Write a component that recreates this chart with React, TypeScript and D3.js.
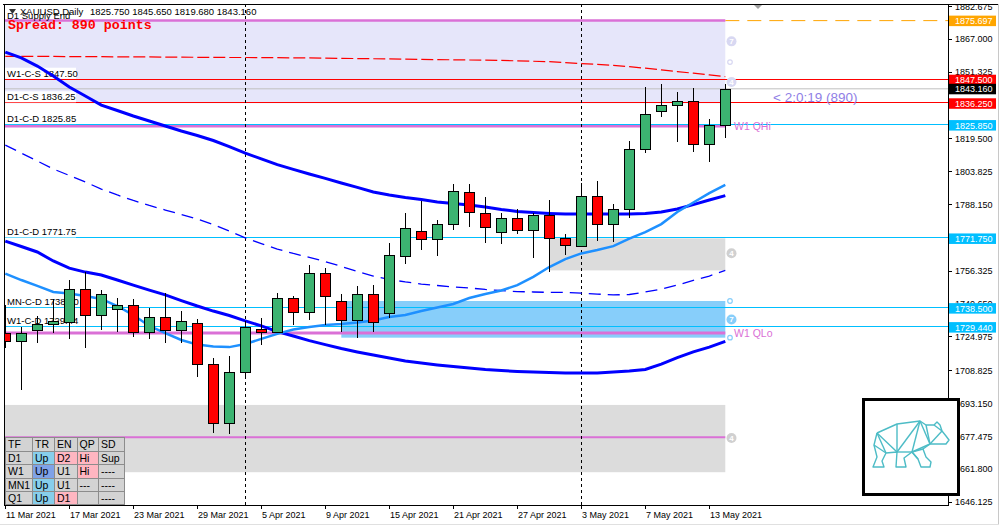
import * as d3 from "d3";

// ---- bars (XAUUSD daily) ----
const days = [
  "2021-03-11", "2021-03-12", "2021-03-15", "2021-03-16", "2021-03-17", "2021-03-18", "2021-03-19",
  "2021-03-22", "2021-03-23", "2021-03-24", "2021-03-25", "2021-03-26", "2021-03-29", "2021-03-30",
  "2021-03-31", "2021-04-01", "2021-04-05", "2021-04-06", "2021-04-07", "2021-04-08", "2021-04-09",
  "2021-04-12", "2021-04-13", "2021-04-14", "2021-04-15", "2021-04-16", "2021-04-19", "2021-04-20",
  "2021-04-21", "2021-04-22", "2021-04-23", "2021-04-26", "2021-04-27", "2021-04-28", "2021-04-29",
  "2021-04-30", "2021-05-03", "2021-05-04", "2021-05-05", "2021-05-06", "2021-05-07", "2021-05-10",
  "2021-05-11", "2021-05-12", "2021-05-13", "2021-05-14",
];
const opens = [
  1726.8, 1722.7, 1727.9, 1730.8, 1732.0, 1747.5, 1735.1, 1737.9, 1739.9, 1727.0, 1734.1, 1727.9,
  1731.3, 1711.7, 1683.5, 1707.9, 1728.5, 1727.3, 1743.2, 1736.5, 1755.1, 1741.8, 1732.7, 1745.1,
  1736.0, 1763.5, 1775.3, 1771.3, 1778.5, 1793.8, 1783.8, 1774.7, 1781.4, 1775.6, 1782.8, 1771.8,
  1768.0, 1791.9, 1778.5, 1785.7, 1814.3, 1832.4, 1835.3, 1837.2, 1816.7, 1825.75,
];
const highs = [
  1740.0, 1729.6, 1734.7, 1742.9, 1751.9, 1755.6, 1747.1, 1743.3, 1742.9, 1738.4, 1745.6, 1737.1,
  1733.2, 1714.8, 1715.7, 1732.5, 1733.6, 1745.6, 1744.3, 1759.1, 1757.5, 1745.2, 1749.1, 1749.5,
  1769.4, 1784.0, 1789.8, 1780.6, 1797.7, 1797.7, 1791.7, 1783.8, 1785.8, 1783.8, 1790.1, 1773.9,
  1798.1, 1799.2, 1788.0, 1818.3, 1843.9, 1845.5, 1841.5, 1843.4, 1828.6, 1845.65,
];
const lows = [
  1719.5, 1699.4, 1721.7, 1726.5, 1723.9, 1719.3, 1728.1, 1727.3, 1724.9, 1723.8, 1721.7, 1721.7,
  1705.8, 1679.1, 1678.3, 1704.9, 1720.9, 1726.5, 1730.4, 1732.8, 1730.4, 1727.3, 1724.1, 1727.3,
  1733.6, 1759.6, 1766.2, 1763.5, 1775.8, 1777.4, 1769.7, 1769.0, 1773.7, 1762.6, 1755.9, 1763.9,
  1767.5, 1770.7, 1770.2, 1781.7, 1812.7, 1829.9, 1817.9, 1813.1, 1808.4, 1819.68,
];
const closes = [
  1722.7, 1726.8, 1730.8, 1732.4, 1747.5, 1735.1, 1745.1, 1739.9, 1727.0, 1734.1, 1727.9, 1732.2,
  1711.7, 1683.5, 1707.9, 1729.6, 1727.3, 1743.2, 1736.8, 1755.1, 1744.1, 1732.7, 1745.1, 1732.0,
  1763.7, 1776.6, 1771.3, 1778.5, 1794.3, 1784.2, 1777.1, 1781.4, 1775.6, 1782.8, 1771.8, 1768.5,
  1791.9, 1778.5, 1785.7, 1814.3, 1831.0, 1835.3, 1837.2, 1816.7, 1825.75, 1843.16,
];

// ---- indicators ----
const midBand = [
  1860.7, 1857.9, 1854.0, 1849.3, 1844.0, 1839.7, 1835.4, 1832.8, 1830.2, 1827.8, 1825.4, 1823.0,
  1820.9, 1818.5, 1815.6, 1812.5, 1809.7, 1807.0, 1804.7, 1802.5, 1800.4, 1798.2, 1796.1, 1793.9,
  1792.5, 1791.3, 1790.3, 1789.1, 1788.4, 1787.7, 1786.8, 1785.6, 1784.6, 1784.1, 1783.7, 1783.4,
  1783.4, 1783.4, 1783.4, 1783.4, 1783.7, 1784.4, 1785.8, 1787.9, 1790.1, 1792.2,
];
const lowBand = [
  1770.5, 1767.9, 1765.3, 1761.0, 1757.6, 1755.7, 1754.3, 1751.9, 1749.5, 1747.1, 1744.8, 1742.1,
  1739.5, 1737.1, 1735.0, 1732.4, 1730.0, 1727.3, 1725.2, 1723.0, 1721.1, 1719.2, 1717.6, 1716.1,
  1714.7, 1713.3, 1712.3, 1711.4, 1710.6, 1709.9, 1709.2, 1708.7, 1708.3, 1708.0, 1707.8, 1707.5,
  1707.5, 1707.5, 1708.0, 1708.5, 1709.2, 1711.8, 1714.9, 1717.6, 1719.9, 1722.6,
];
const slowMA = [
  1816.3, 1812.5, 1808.7, 1804.9, 1801.8, 1798.7, 1795.3, 1792.5, 1789.9, 1787.5, 1785.3, 1783.2,
  1781.0, 1778.4, 1775.3, 1772.0, 1769.3, 1766.7, 1764.6, 1762.7, 1760.7, 1758.4, 1756.0, 1753.8,
  1752.2, 1751.0, 1750.0, 1749.3, 1748.6, 1748.1, 1747.4, 1746.9, 1746.4, 1746.2, 1746.0, 1746.0,
  1745.7, 1745.2, 1744.8, 1745.0, 1746.2, 1747.6, 1749.5, 1751.7, 1753.8, 1756.5,
];
const upperEnv = [
  1858.6, 1858.6, 1858.6, 1858.6, 1858.5, 1858.5, 1858.5, 1858.4, 1858.4, 1858.4, 1858.3, 1858.3,
  1858.2, 1858.2, 1858.1, 1858.1, 1858.0, 1858.0, 1857.9, 1857.9, 1857.8, 1857.7, 1857.6, 1857.5,
  1857.4, 1857.3, 1857.2, 1857.1, 1857.0, 1856.9, 1856.8, 1856.7, 1856.5, 1856.3, 1856.1, 1855.7,
  1855.2, 1854.8, 1854.3, 1853.7, 1853.0, 1852.2, 1851.4, 1850.6, 1849.8, 1849.0,
];
const fastMA = [
  1755.0, 1751.9, 1749.1, 1746.2, 1745.5, 1744.3, 1742.9, 1739.5, 1735.2, 1730.0, 1726.6, 1723.3,
  1721.1, 1720.2, 1719.9, 1721.4, 1723.8, 1726.2, 1728.3, 1729.5, 1730.4, 1730.9, 1731.6, 1732.6,
  1734.3, 1735.2, 1737.1, 1738.8, 1740.5, 1743.3, 1745.2, 1746.9, 1749.5, 1753.4, 1758.1, 1761.9,
  1764.6, 1766.2, 1768.1, 1771.7, 1774.8, 1778.6, 1784.4, 1788.9, 1793.4, 1797.3,
];

// ---- levels & zones ----
const levelNames = ["W1-C-S", "D1-C-S", "D1-C-D", "D1-C-D", "MN-C-D", "W1-C-D"];
const levelValues = [1847.5, 1836.25, 1825.85, 1771.75, 1738.5, 1729.44];
const levelKinds = ["supply", "supply", "demand", "demand", "demand", "demand"];
const bidPrice = 1843.16;
const supplyEnd = 1875.697;
const quarterNames = ["W1 QHi", "W1 QLo"];
const quarterValues = [1825.4, 1726.6];
const extraEnd = 1676.9;

const zoneStart = [-1, 34, 21, -1];
const zoneTop = [1875.697, 1771.8, 1741.9, 1692.3];
const zoneBottom = [1836.25, 1756.5, 1724.4, 1660.2];
const zoneKinds = ["supply", "grey", "blue", "grey"];
const touchPrices = [1865.8, 1846.4, 1764.7, 1733.1, 1676.5];
const touchDigits = ["7", "4", "4", "7", "4"];
const touchKinds = ["supply", "supply", "grey", "blue", "grey"];
const ringPrices = [1855.9, 1741.9, 1724.4];
const ringKinds = ["supply", "blue", "blue"];

const priceTicks = [
  1882.675, 1867.0, 1851.325, 1835.65, 1819.5, 1803.825, 1788.15, 1772.475, 1756.325, 1740.65,
  1724.975, 1708.825, 1693.15, 1677.475, 1661.8, 1646.125,
];
const tagValues = [1875.697, 1847.5, 1843.16, 1836.25, 1825.85, 1771.75, 1738.5, 1729.44];
const tagKinds = ["end", "supply", "bid", "supply", "demand", "demand", "demand", "demand"];

const tableHead = ["TF", "TR", "EN", "QP", "SD"];
const tableRows = [
  ["D1", "Up", "D2", "Hi", "Sup"],
  ["W1", "Up", "U1", "Hi", "----"],
  ["MN1", "Up", "U1", "---", "----"],
  ["Q1", "Up", "D1", "", "----"],
];
const tableTones = [
  ["n", "b", "p", "p", "n"],
  ["n", "d", "n", "p", "n"],
  ["n", "b", "n", "n", "n"],
  ["n", "b", "p", "n", "n"],
];

const FONT = "'Liberation Sans', Arial, sans-serif";
const zoneFill = { supply: "#E6E6FA", grey: "#DCDCDC", blue: "#87CEFA" };
const touchFill = { supply: "#D8D8F2", grey: "#D0D0D0", blue: "#87CEFA" };
const tagFill = { end: "#FFA500", supply: "#FF0000", bid: "#000000", demand: "#00BFFF" };
const toneFill = { n: "#D3D3D3", b: "#87CEEB", d: "#7FA2E8", p: "#FFB6C1" };

const bear = {
  a: [877, 433], b: [897, 424], c: [920, 421], d: [926, 425], e: [934, 425], f: [937, 422],
  g: [940, 425], h: [942, 431], i: [946, 436], j: [949, 440], k: [946, 444], l: [940, 444],
  m: [930, 444], n: [923, 449], o: [926, 457], p: [931, 462], q: [930, 467], r: [921, 467],
  s: [918, 459], t: [912, 452], u: [904, 458], v: [906, 467], w: [896, 467], z: [897, 452],
  aa: [886, 453], ab: [882, 461], ac: [884, 467], ad: [873, 467], ae: [877, 457], af: [874, 445],
};
const bearOutline = "a b c d e f g h i j k l m n o p q r s t u v w z aa ab ac ad ae af a".split(" ");
const bearInner = [["a", "z"], ["b", "z"], ["c", "z"], ["c", "t"], ["c", "m"], ["d", "m"], ["h", "m"], ["e", "h"],
  ["a", "aa"], ["af", "aa"], ["t", "z"], ["n", "t"], ["m", "t"], ["t", "s"]];

export default function App() {
  const L = 4, R = 948, T = 4, B = 505;
  const x = d3.scaleLinear().domain([0, 45]).range([5.3, 725.3]);
  const y = d3.scaleLinear().domain([1646.125, 1882.675]).range([501.7, 6]);
  const parse = d3.timeParse("%Y-%m-%d");
  const fmtDate = d3.timeFormat("%-d %b %Y");
  const fmt3 = d3.format(".3f");
  const line = (vals) => d3.line().x((_, i) => x(i)).y((d) => y(d))(vals);
  const xEnd = x(45);
  const dateTicks = days.map((d, i) => i).filter((i) => i % 4 === 0);
  const sepBars = days.map((d, i) => i).filter((i) => i > 0 && days[i].slice(5, 7) !== days[i - 1].slice(5, 7));
  const colX = [5, 32, 54, 76.5, 98, 124];
  const rowY = [437, 450.5, 464, 477.5, 491, 504];
  const bp = (k) => bear[k].join(",");

  return (
    <svg width={1001} height={527} style={{ position: "absolute", left: 0, top: 0, background: "#fff" }}
      fontFamily={FONT}>
      <defs>
        <clipPath id="plot"><rect x={L} y={T} width={R - L} height={B - T} /></clipPath>
      </defs>
      <rect width={1001} height={527} fill="#fff" />
      <g clipPath="url(#plot)">
        {zoneTop.map((t, i) => (
          <rect key={i} x={x(zoneStart[i])} y={y(t)} width={xEnd - x(zoneStart[i])}
            height={y(zoneBottom[i]) - y(t)} fill={zoneFill[zoneKinds[i]]} />
        ))}
        {/* level lines */}
        <line x1={xEnd} x2={R} y1={y(supplyEnd)} y2={y(supplyEnd)} stroke="#FFA500" strokeDasharray="14,8" />
        <line x1={L} x2={xEnd} y1={y(supplyEnd)} y2={y(supplyEnd)} stroke="#DA70D6" strokeWidth={2.5} />
        <line x1={L} x2={xEnd} y1={y(extraEnd)} y2={y(extraEnd)} stroke="#DA70D6" strokeWidth={2} />
        {quarterValues.map((v, i) => (
          <line key={i} x1={L} x2={xEnd} y1={y(v)} y2={y(v)} stroke="#DA70D6" strokeWidth={3} />
        ))}
        <line x1={L} x2={R} y1={y(bidPrice)} y2={y(bidPrice)} stroke="#C0C0C0" />
        {levelValues.map((v, i) => (
          <line key={i} x1={L} x2={R} y1={Math.round(y(v)) - 0.5} y2={Math.round(y(v)) - 0.5}
            stroke={levelKinds[i] === "supply" ? "#FF0000" : "#00BFFF"} />
        ))}
        {/* left labels */}
        <text x={7} y={19} fontSize={9.5}>D1 Supply End</text>
        {levelValues.map((v, i) => (
          <g key={i}>
            <rect x={L} y={y(v) - 12} width={72} height={11} fill="#fff" />
            <text x={7} y={y(v) - 3} fontSize={9.5}>{levelNames[i] + " " + v.toFixed(2)}</text>
          </g>
        ))}
        {/* period separators */}
        {sepBars.map((i) => (
          <line key={i} x1={Math.round(x(i)) + 0.5} x2={Math.round(x(i)) + 0.5} y1={T} y2={B}
            stroke="#000" strokeDasharray="3,3" />
        ))}
        {/* indicators */}
        <path d={line(upperEnv)} fill="none" stroke="#FF0000" strokeWidth={1.2} strokeDasharray="12,4" />
        <path d={line(slowMA)} fill="none" stroke="#0000FF" strokeWidth={1.3} strokeDasharray="12,7" />
        <path d={line(midBand)} fill="none" stroke="#0000FF" strokeWidth={3} />
        <path d={line(lowBand)} fill="none" stroke="#0000FF" strokeWidth={3} />
        <path d={line(fastMA)} fill="none" stroke="#1E90FF" strokeWidth={2.5} />
        {/* candles */}
        {opens.map((o, i) => {
          const c = closes[i];
          const cx = Math.round(x(i));
          const top = Math.round(y(Math.max(o, c)));
          const bot = Math.round(y(Math.min(o, c)));
          return (
            <g key={i} shapeRendering="crispEdges">
              <line x1={cx + 0.5} x2={cx + 0.5} y1={y(highs[i])} y2={y(lows[i])} stroke="#000" />
              <rect x={cx - 4.5} y={top + 0.5} width={10} height={Math.max(1, bot - top)}
                fill={c >= o ? "#3CB371" : "#FF0000"} stroke="#000" />
            </g>
          );
        })}
      </g>
      {/* zone touch markers */}
      {touchPrices.map((p, i) => (
        <g key={i}>
          <circle cx={731.5} cy={y(p)} r={5} fill={touchFill[touchKinds[i]]} />
          <text x={731.5} y={y(p) + 3} fontSize={8} fontWeight="bold" fill="#fff" textAnchor="middle">
            {touchDigits[i]}
          </text>
        </g>
      ))}
      {ringPrices.map((p, i) => (
        <circle key={i} cx={730} cy={y(p)} r={2.3} fill="#fff" stroke={touchFill[ringKinds[i]]} strokeWidth={1.2} />
      ))}
      {quarterValues.map((v, i) => (
        <text key={i} x={734} y={y(v) + 4} fontSize={10.5} fill="#DA70D6">{quarterNames[i]}</text>
      ))}
      {/* header */}
      <path d="M9,9 L16,9 L12.5,14 Z" fill="#333" />
      <text x={20} y={15} fontSize={9.5}>XAUUSD,Daily</text>
      <text x={90} y={15} fontSize={9.5}>{[opens[45], highs[45], lows[45], closes[45]].map((v) => v.toFixed(3)).join(" ")}</text>
      <text x={8} y={29} fontSize={13.3} fontFamily="'Liberation Mono', monospace" fontWeight="bold" fill="#FF0000">
        Spread: 890 points
      </text>
      <text x={773} y={102} fontSize={13.5} fill="#9080E6">{"< 2:0:19 (890)"}</text>
      <path d="M753,4 L763,4 L758,9 Z" fill="#A0A0A0" />
      {/* axes */}
      <line x1={3} x2={999} y1={4.5} y2={4.5} stroke="#000" />
      <line x1={4.5} x2={4.5} y1={4} y2={B} stroke="#000" />
      <line x1={998.5} x2={998.5} y1={4} y2={524} stroke="#C8C8C8" />
      <line x1={0} x2={999} y1={524.5} y2={524.5} stroke="#E0E0E0" />
      <line x1={R + 0.5} x2={R + 0.5} y1={4} y2={B + 1} stroke="#000" />
      <line x1={4} x2={R + 1} y1={B + 0.5} y2={B + 0.5} stroke="#000" />
      {priceTicks.map((v) => (
        <g key={v}>
          <line x1={R} x2={R + 4} y1={Math.round(y(v)) + 0.5} y2={Math.round(y(v)) + 0.5} stroke="#000" />
          <text x={955} y={y(v) + 3.5} fontSize={9}>{fmt3(v)}</text>
        </g>
      ))}
      {tagValues.map((v, i) => (
        <g key={i}>
          <rect x={949} y={y(v) - 5} width={47} height={10.5} fill={tagFill[tagKinds[i]]} />
          <text x={955} y={y(v) + 3.5} fontSize={9} fill="#fff">{fmt3(v)}</text>
        </g>
      ))}
      {dateTicks.map((i) => (
        <g key={i}>
          <line x1={Math.round(x(i)) + 0.5} x2={Math.round(x(i)) + 0.5} y1={B} y2={B + 4} stroke="#000" />
          <text x={Math.round(x(i)) + 1} y={518} fontSize={9}>{fmtDate(parse(days[i]))}</text>
        </g>
      ))}
      {/* status table */}
      <g fontSize={10.5} shapeRendering="crispEdges">
        {[tableHead, ...tableRows].map((row, r) =>
          row.map((v, c) => (
            <g key={r + "-" + c}>
              <rect x={colX[c] + 0.5} y={rowY[r] + 0.5} width={colX[c + 1] - colX[c]} height={rowY[r + 1] - rowY[r]}
                fill={r === 0 ? toneFill.n : toneFill[tableTones[r - 1][c]]} stroke="#8C8C8C" />
              <text x={colX[c] + 3} y={rowY[r] + 11} shapeRendering="auto">{v}</text>
            </g>
          ))
        )}
      </g>
      {/* logo */}
      <rect x={863.5} y={399.5} width={95} height={95} fill="#fff" stroke="#000" strokeWidth={3} />
      <g fill="none" stroke="#4DBCC6" strokeWidth={1.4} strokeLinejoin="round">
        <polyline points={bearOutline.map(bp).join(" ")} />
        {bearInner.map(([a, b], i) => (
          <line key={i} x1={bear[a][0]} y1={bear[a][1]} x2={bear[b][0]} y2={bear[b][1]} />
        ))}
      </g>
    </svg>
  );
}
